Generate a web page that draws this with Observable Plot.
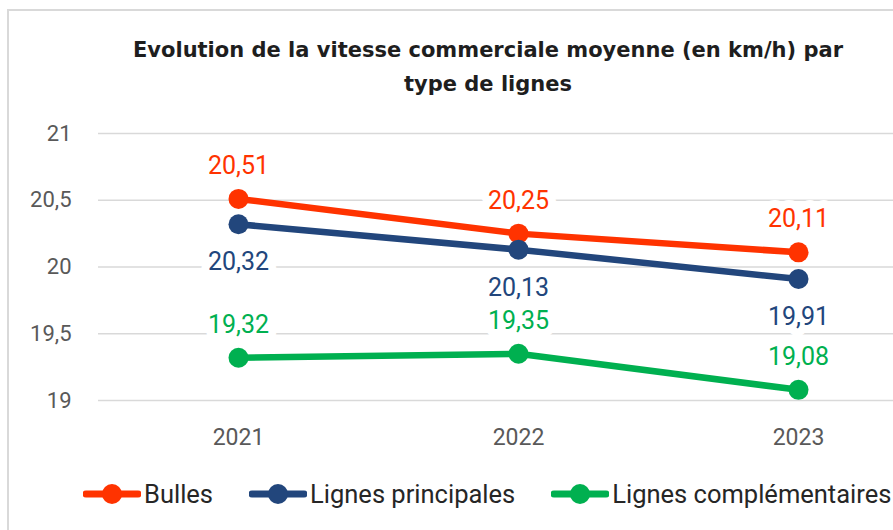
<!DOCTYPE html>
<html>
<head>
<meta charset="utf-8">
<script src="https://cdn.jsdelivr.net/npm/d3@7"></script>
<script src="https://cdn.jsdelivr.net/npm/@observablehq/plot@0.6"></script>
<style>
  html, body { margin: 0; padding: 0; background: #fff; }
  body { width: 893px; height: 530px; overflow: hidden; position: relative; font-family: Roboto, "Noto Sans", sans-serif; }
  #frame { position: absolute; left: 7px; top: 9px; width: 900px; height: 540px; border-left: 2px solid #d9d9d9; border-top: 2px solid #d9d9d9; }
  #title { position: absolute; left: 88px; top: 0; width: 800px; padding-top: 33px; text-align: center; font-family: "DejaVu Sans", sans-serif; font-weight: 700; font-size: 21px; line-height: 34px; color: #1e1e1e; }
  #chart { position: absolute; left: 0; top: 112px; }
  #legend { position: absolute; left: 83px; top: 479px; display: flex; align-items: center; font-size: 25.5px; color: #262626; white-space: nowrap; }
  .item { display: flex; align-items: center; margin-right: 36px; }
  .item svg { margin-right: 3px; }
</style>
</head>
<body>
<div id="frame"></div>
<div id="title">Evolution de la vitesse commerciale moyenne (en km/h) par<br>type de lignes</div>
<div id="chart"></div>
<div id="legend"></div>
<script>
const years = ["2021", "2022", "2023"];
const series = ["Bulles", "Lignes principales", "Lignes complémentaires"];
const bulles = [20.51, 20.25, 20.11];
const principales = [20.32, 20.13, 19.91];
const complementaires = [19.32, 19.35, 19.08];
const colors = ["#FF3300", "#22467C", "#00B050"];
const yTicks = [19, 19.5, 20, 20.5, 21];

const values = [bulles, principales, complementaires];
const data = series.flatMap((s, i) => years.map((y, j) => ({ series: s, year: y, value: values[i][j] })));
const fmt = v => String(v).replace(".", ",");
const labelDy = { "Bulles": -33, "Lignes principales": 38, "Lignes complémentaires": -33 };

const labelMarks = series.map(s => Plot.text(data.filter(d => d.series === s), {
  x: "year", y: "value", text: d => fmt(d.value), fill: "series",
  dy: labelDy[s], fontSize: 25, stroke: "white", strokeWidth: 16, strokeLinejoin: "round"
}));

const chart = Plot.plot({
  width: 893,
  height: 350,
  marginLeft: 98,
  marginRight: 0,
  marginTop: 21,
  marginBottom: 62,
  style: { fontFamily: "Roboto, sans-serif", fontSize: "22px", color: "#595959", background: "transparent" },
  x: { type: "point", domain: years, range: [238, 798], padding: 0 },
  y: { domain: [19, 21] },
  color: { domain: series, range: colors },
  marks: [
    Plot.ruleY(yTicks, { stroke: "#d9d9d9", strokeWidth: 1.5 }),
    Plot.axisY(yTicks, { tickSize: 0, tickPadding: 27, tickFormat: fmt, fontSize: 22, label: null }),
    Plot.axisX({ tickSize: 0, tickPadding: 28, fontSize: 23, label: null }),
    ...labelMarks,
    Plot.line(data, { x: "year", y: "value", z: "series", stroke: "series", strokeWidth: 6.5 }),
    Plot.dot(data, { x: "year", y: "value", fill: "series", r: 10 })
  ]
});
document.getElementById("chart").appendChild(chart);

const legend = document.getElementById("legend");
series.forEach((s, i) => {
  const item = document.createElement("div");
  item.className = "item";
  item.innerHTML = `<svg width="58" height="22"><line x1="3" x2="55" y1="11" y2="11" stroke="${colors[i]}" stroke-width="7" stroke-linecap="round"/><circle cx="29" cy="11" r="10" fill="${colors[i]}"/></svg><span>${s}</span>`;
  legend.appendChild(item);
});
</script>
</body>
</html>
